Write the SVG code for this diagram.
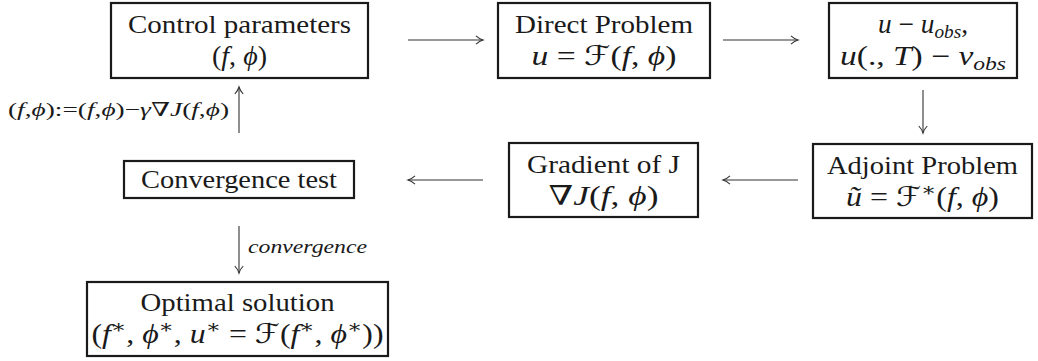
<svg xmlns="http://www.w3.org/2000/svg" width="1038" height="361" viewBox="0 0 1038 361">
<style>
.bg{fill:#fff}
.box{fill:none;stroke:#1a1a1a;stroke-width:2.2}
.t{font-family:'Liberation Serif','DejaVu Serif',serif;font-size:26px;fill:#1a1a1a;text-anchor:middle}
.m{font-family:'Liberation Serif','DejaVu Serif',serif;font-size:27px;fill:#1a1a1a;text-anchor:middle}
.i{font-style:italic}
.cal{font-family:'DejaVu Serif','DejaVu Sans',serif;font-style:normal}
.sub{font-size:19px}
.lbl{font-family:'Liberation Serif','DejaVu Serif',serif;font-size:19px;fill:#1a1a1a}
.conn line{stroke:#333;stroke-width:1.1;fill:none}
</style>
<defs>
<marker id="ah" markerWidth="12" markerHeight="12" refX="10" refY="6" orient="auto" markerUnits="userSpaceOnUse">
<path d="M3,1.8 Q6.5,5 10,6 Q6.5,7 3,10.2" fill="none" stroke="#333" stroke-width="1.1"/>
</marker>
</defs>
<rect class="bg" x="0" y="0" width="1038" height="361"/>

<g id="control">
<rect class="box" x="111" y="3" width="257" height="75"/>
<text class="t" x="239.5" y="33" textLength="223" lengthAdjust="spacingAndGlyphs">Control parameters</text>
<text class="m" x="239.5" y="65" textLength="55" lengthAdjust="spacingAndGlyphs">(<tspan class="i">f</tspan>, <tspan class="i">ϕ</tspan>)</text>
</g>

<g id="direct">
<rect class="box" x="498" y="3" width="212" height="75"/>
<text class="t" x="604" y="33" textLength="178" lengthAdjust="spacingAndGlyphs">Direct Problem</text>
<text class="m" x="604" y="65" textLength="145" lengthAdjust="spacingAndGlyphs"><tspan class="i">u</tspan> = <tspan class="cal">ℱ</tspan>(<tspan class="i">f</tspan>, <tspan class="i">ϕ</tspan>)</text>
</g>

<g id="residual">
<rect class="box" x="829" y="3" width="188" height="75"/>
<text class="m" x="923" y="33" textLength="90" lengthAdjust="spacingAndGlyphs"><tspan class="i">u</tspan> − <tspan class="i">u</tspan><tspan class="i sub" dy="5">obs</tspan><tspan dy="-5">,</tspan></text>
<text class="m" x="923" y="65" textLength="166" lengthAdjust="spacingAndGlyphs"><tspan class="i">u</tspan>(., <tspan class="i">T</tspan>) − <tspan class="i">v</tspan><tspan class="i sub" dy="5">obs</tspan></text>
</g>

<g id="adjoint">
<rect class="box" x="813" y="144" width="219" height="74"/>
<text class="t" x="922.5" y="174" textLength="191" lengthAdjust="spacingAndGlyphs">Adjoint Problem</text>
<text class="m" x="922.5" y="206" textLength="153" lengthAdjust="spacingAndGlyphs"><tspan class="i">ũ</tspan> = <tspan class="cal">ℱ</tspan><tspan class="sub" dy="-10">∗</tspan><tspan dy="10">(</tspan><tspan class="i">f</tspan>, <tspan class="i">ϕ</tspan>)</text>
</g>

<g id="gradient">
<rect class="box" x="509" y="143" width="189" height="74"/>
<text class="t" x="603.5" y="173" textLength="153" lengthAdjust="spacingAndGlyphs">Gradient of J</text>
<text class="m" x="603.5" y="205" textLength="110" lengthAdjust="spacingAndGlyphs">∇<tspan class="i">J</tspan>(<tspan class="i">f</tspan>, <tspan class="i">ϕ</tspan>)</text>
</g>

<g id="convergence">
<rect class="box" x="124" y="161" width="230" height="37"/>
<text class="t" x="239" y="188" textLength="196" lengthAdjust="spacingAndGlyphs">Convergence test</text>
</g>

<g id="optimal">
<rect class="box" x="87" y="282" width="301" height="74"/>
<text class="t" x="237.5" y="311" textLength="194" lengthAdjust="spacingAndGlyphs">Optimal solution</text>
<text class="m" x="237.5" y="343" textLength="292" lengthAdjust="spacingAndGlyphs">(<tspan class="i">f</tspan><tspan class="sub" dy="-10">∗</tspan><tspan dy="10">, </tspan><tspan class="i">ϕ</tspan><tspan class="sub" dy="-10">∗</tspan><tspan dy="10">, </tspan><tspan class="i">u</tspan><tspan class="sub" dy="-10">∗</tspan><tspan dy="10"> = </tspan><tspan class="cal">ℱ</tspan>(<tspan class="i">f</tspan><tspan class="sub" dy="-10">∗</tspan><tspan dy="10">, </tspan><tspan class="i">ϕ</tspan><tspan class="sub" dy="-10">∗</tspan><tspan dy="10">))</tspan></text>
</g>

<g id="connectors" class="conn">
<line x1="408" y1="40" x2="483" y2="40" marker-end="url(#ah)"/>
<line x1="723" y1="40" x2="798" y2="40" marker-end="url(#ah)"/>
<line x1="923" y1="90" x2="923" y2="133" marker-end="url(#ah)"/>
<line x1="798" y1="180" x2="723" y2="180" marker-end="url(#ah)"/>
<line x1="483" y1="180" x2="408" y2="180" marker-end="url(#ah)"/>
<line x1="239" y1="133" x2="239" y2="87" marker-end="url(#ah)"/>
<line x1="239" y1="226" x2="239" y2="273" marker-end="url(#ah)"/>
<text class="lbl" x="229" y="116" text-anchor="end" textLength="221" lengthAdjust="spacingAndGlyphs">(<tspan class="i">f</tspan>,<tspan class="i">ϕ</tspan>):=(<tspan class="i">f</tspan>,<tspan class="i">ϕ</tspan>)−<tspan class="i">γ</tspan>∇<tspan class="i">J</tspan>(<tspan class="i">f</tspan>,<tspan class="i">ϕ</tspan>)</text>
<text class="lbl i" x="248" y="253" textLength="119" lengthAdjust="spacingAndGlyphs">convergence</text>
</g>
</svg>
